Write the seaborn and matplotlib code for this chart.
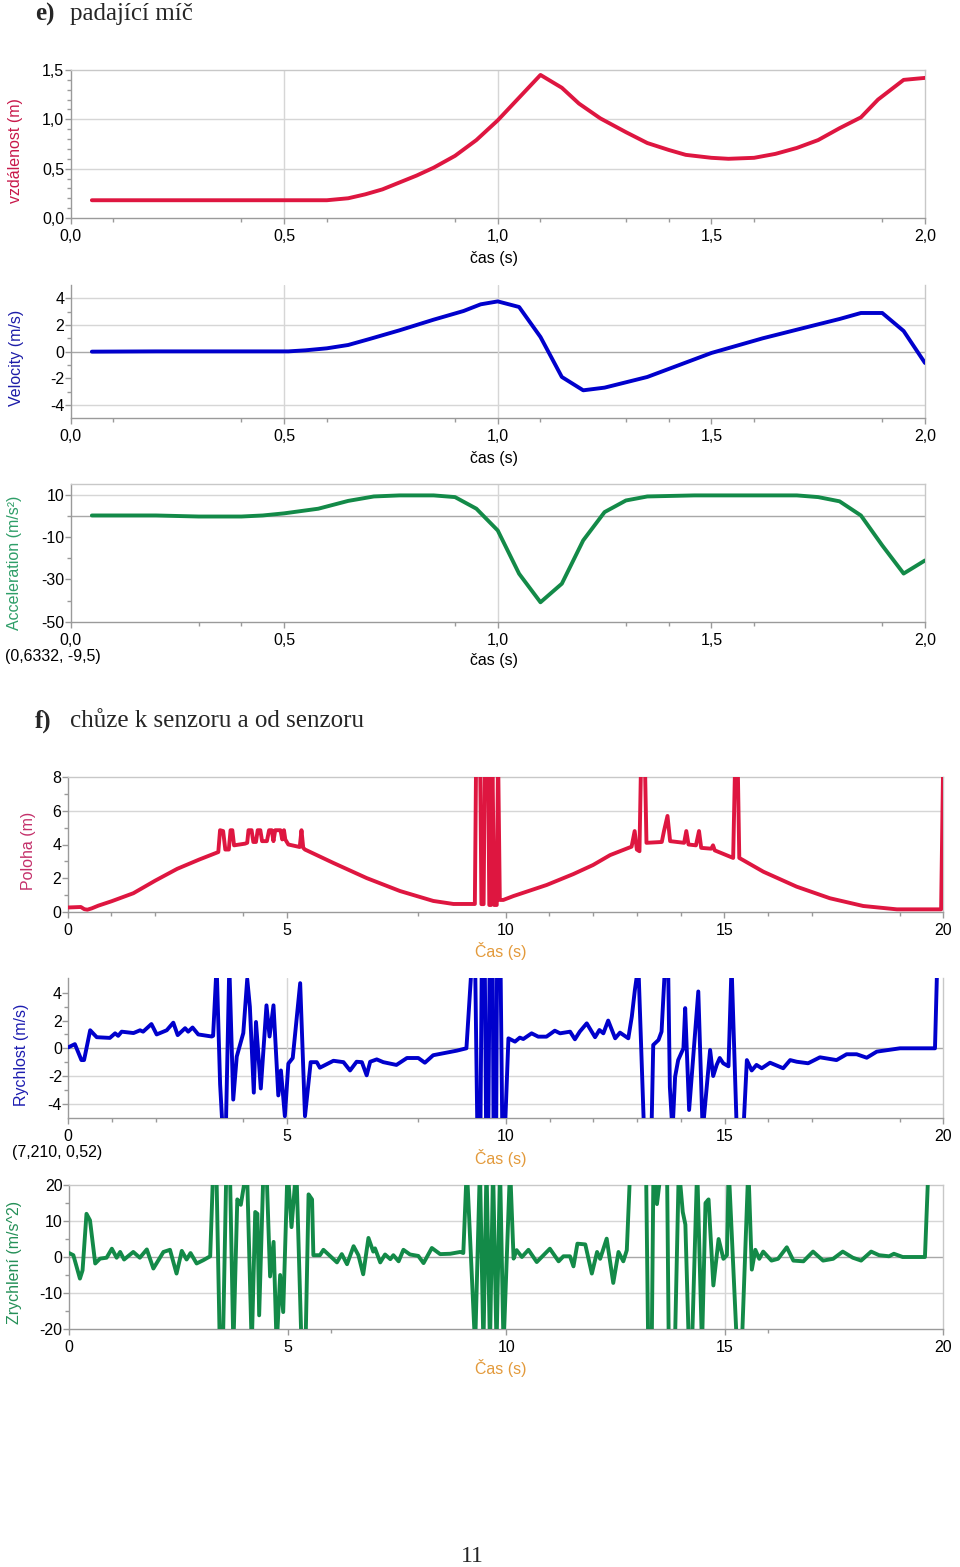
import numpy as np
import pandas as pd
import matplotlib
matplotlib.use("Agg")
import matplotlib.pyplot as plt
import seaborn as sns

# ---------------- data: e) falling ball ----------------
ball_t_dist = [0.05, 0.2, 0.4, 0.6, 0.65, 0.69, 0.73, 0.77, 0.81, 0.85, 0.9, 0.95,
               1.0, 1.05, 1.10, 1.15, 1.19, 1.24, 1.30, 1.35, 1.40, 1.44, 1.50, 1.54,
               1.60, 1.65, 1.70, 1.75, 1.80, 1.85, 1.89, 1.95, 2.0]
ball_dist = [0.18, 0.18, 0.18, 0.18, 0.2, 0.24, 0.29, 0.36, 0.43, 0.51, 0.63, 0.79,
             0.99, 1.22, 1.45, 1.32, 1.16, 1.01, 0.87, 0.76, 0.69, 0.64, 0.61, 0.60,
             0.61, 0.65, 0.71, 0.79, 0.91, 1.02, 1.2, 1.40, 1.42]

ball_t_vel = [0.05, 0.2, 0.4, 0.51, 0.55, 0.60, 0.65, 0.70, 0.77, 0.85, 0.92, 0.96,
              1.0, 1.05, 1.10, 1.15, 1.20, 1.25, 1.35, 1.50, 1.62, 1.74, 1.80, 1.85,
              1.90, 1.95, 2.0]
ball_vel = [0.0, 0.02, 0.02, 0.02, 0.1, 0.25, 0.5, 0.95, 1.6, 2.4, 3.05, 3.55,
            3.77, 3.35, 1.1, -1.9, -2.9, -2.7, -1.9, -0.1, 1.0, 1.97, 2.45, 2.9,
            2.9, 1.55, -0.85]

ball_t_acc = [0.05, 0.2, 0.3, 0.4, 0.45, 0.5, 0.58, 0.65, 0.71, 0.77, 0.85, 0.9, 0.95,
              1.0, 1.05, 1.10, 1.15, 1.20, 1.25, 1.30, 1.35, 1.46, 1.54, 1.70, 1.75,
              1.80, 1.85, 1.90, 1.95, 2.0]
ball_acc = [0.3, 0.3, -0.2, -0.2, 0.3, 1.3, 3.5, 7.2, 9.3, 9.8, 9.8, 9.0, 3.5,
            -6.8, -27.3, -40.8, -32.0, -11.5, 1.9, 7.4, 9.3, 9.8, 9.8, 9.8, 9.0,
            7.0, 0.3, -13.9, -27.2, -21.0]

# ---------------- data: f) walking to/from sensor ----------------
walk_t_pos = [0.0, 0.3, 0.38, 0.45, 0.55, 0.7, 1.0, 1.5, 2.0, 2.5, 3.0, 3.44,
              3.48, 3.55, 3.6, 3.68, 3.72, 3.76, 3.8, 4.05, 4.1, 4.13,
              4.2, 4.24, 4.3, 4.34, 4.4, 4.44, 4.55, 4.6, 4.66, 4.7,
              4.74, 4.86, 4.9, 4.94, 4.97, 5.04, 5.3, 5.34, 5.38, 5.42,
              6.07, 6.83, 7.59, 8.35, 8.81, 9.3,
              9.33, 9.42, 9.45, 9.5, 9.53, 9.6, 9.63, 9.67, 9.7, 9.74, 9.8, 9.83, 9.87, 9.95,
              10.18, 10.94, 11.55, 12.0, 12.39, 12.88, 12.95, 13.0, 13.06, 13.1,
              13.18, 13.22, 13.57, 13.62, 13.7, 13.76, 14.08, 14.13, 14.18, 14.35,
              14.42, 14.47, 14.7, 14.74, 14.78, 15.2, 15.25, 15.3, 15.34,
              15.89, 16.65, 17.41, 18.17, 18.94, 19.95, 20.0]
walk_pos = [0.25, 0.28, 0.15, 0.12, 0.2, 0.36, 0.62, 1.1, 1.85, 2.55, 3.1, 3.55,
            4.85, 4.8, 3.7, 3.7, 4.85, 4.85, 3.95, 4.05, 4.1, 4.85,
            4.85, 4.15, 4.15, 4.85, 4.85, 4.2, 4.2, 4.85, 4.85, 4.2,
            4.85, 4.85, 4.3, 4.85, 4.3, 4.0, 3.85, 4.85, 3.8, 3.7,
            2.9, 2.0, 1.23, 0.64, 0.46, 0.46,
            9.5, 9.5, 0.45, 0.45, 9.5, 9.5, 0.4, 0.4, 9.5, 0.4, 0.4, 9.5, 0.7, 0.7,
            0.93, 1.59, 2.24, 2.78, 3.37, 3.87, 4.8, 3.7, 3.6, 9.5,
            9.5, 4.1, 4.15, 4.8, 5.7, 4.2, 4.1, 4.8, 4.0, 3.95,
            4.8, 3.8, 3.75, 3.95, 3.65, 3.2, 9.5, 9.5, 3.2,
            2.38, 1.49, 0.8, 0.34, 0.14, 0.14, 9.5]

walk_t_vel = [0.0, 0.15, 0.3, 0.36, 0.5, 0.65, 0.95, 1.07, 1.14, 1.22,
              1.49, 1.64, 1.71, 1.9, 2.02, 2.25, 2.4, 2.5, 2.67, 2.74,
              2.84, 2.97, 3.28, 3.31, 3.39, 3.47, 3.53, 3.6, 3.68, 3.77,
              3.85, 4.0, 4.09, 4.15, 4.24, 4.29, 4.4, 4.53, 4.6, 4.69,
              4.8, 4.86, 4.95, 5.03, 5.13, 5.3, 5.41, 5.54, 5.68, 5.75,
              6.06, 6.29, 6.44, 6.59, 6.71, 6.82, 6.9, 7.05, 7.2, 7.5,
              7.74, 8.0, 8.15, 8.34, 8.57, 8.88, 9.1, 9.22,
              9.3, 9.35, 9.42, 9.45, 9.52, 9.55, 9.6, 9.63, 9.7, 9.72, 9.78, 9.8, 9.88, 9.92, 9.98,
              10.06, 10.21, 10.32, 10.4, 10.59, 10.74, 10.93, 11.12, 11.24, 11.47,
              11.58, 11.69, 11.85, 12.04, 12.14, 12.23, 12.34, 12.5, 12.61, 12.8,
              12.88, 12.95, 13.03, 13.16, 13.33, 13.37, 13.49, 13.56, 13.64, 13.71,
              13.75, 13.81, 13.87, 13.94, 14.06, 14.1, 14.19, 14.4, 14.5, 14.67,
              14.74, 14.82, 14.89, 14.97, 15.09, 15.16, 15.28, 15.43, 15.51, 15.62,
              15.73, 15.85, 16.04, 16.34, 16.5, 16.65, 16.91, 17.18, 17.56, 17.79,
              18.02, 18.25, 18.48, 18.86, 19.01, 19.81, 19.86]
walk_vel = [0.07, 0.3, -0.85, -0.85, 1.3, 0.8, 0.75, 1.08, 0.9, 1.2,
            1.1, 1.3, 1.2, 1.75, 1.0, 1.3, 1.85, 0.95, 1.45, 1.2,
            1.5, 1.0, 0.85, 0.9, 6.0, -2.6, -6.0, -6.0, 6.0, -3.7,
            -0.6, 1.1, 5.0, 3.0, -3.2, 1.9, -2.9, 3.1, 0.85, 3.1,
            -3.4, -1.6, -4.9, -1.1, -0.7, 4.7, -4.9, -1.0, -1.0, -1.4,
            -0.9, -1.0, -1.6, -0.97, -1.0, -1.95, -0.97, -0.8, -1.0, -1.2,
            -0.7, -0.7, -1.04, -0.5, -0.36, -0.17, 0.0, 6.0,
            6.0, -6.0, -6.0, 6.0, 6.0, -6.0, -6.0, 6.0, 6.0, -6.0, -6.0, 6.0, 6.0, -6.0, -6.0,
            0.72, 0.48, 0.77, 0.67, 1.08, 0.84, 0.84, 1.27, 1.08, 1.2,
            0.65, 1.2, 1.8, 0.8, 1.32, 1.08, 2.0, 0.72, 1.13, 0.72,
            2.28, 4.2, 6.0, -6.0, -6.0, 0.24, 0.6, 1.2, 6.0, 6.0,
            -2.8, -6.0, -2.05, -0.85, 0.0, 2.9, -4.45, 4.1, -6.0, -0.12,
            -2.0, -1.2, -0.7, -1.08, -1.3, 6.0, -6.0, -6.0, -0.85, -1.6,
            -1.2, -1.44, -1.04, -1.44, -0.85, -0.97, -1.08, -0.65, -0.85, -0.43,
            -0.43, -0.68, -0.24, -0.07, 0.0, 0.0, 6.0]

walk_t_acc = [0.0, 0.1, 0.25, 0.31, 0.4, 0.48, 0.6, 0.71, 0.86, 0.98,
              1.09, 1.17, 1.26, 1.47, 1.62, 1.78, 1.93, 2.16, 2.31, 2.46,
              2.58, 2.69, 2.78, 2.92, 3.07, 3.23, 3.3, 3.37, 3.45, 3.52,
              3.6, 3.68, 3.76, 3.85, 3.93, 4.07, 4.18, 4.26, 4.31, 4.35,
              4.45, 4.53, 4.6, 4.68, 4.75, 4.83, 4.9, 5.0, 5.09, 5.2,
              5.32, 5.41, 5.48, 5.56, 5.59, 5.74, 5.82, 5.97, 6.13, 6.24,
              6.36, 6.51, 6.62, 6.73, 6.85, 6.96, 7.0, 7.12, 7.23, 7.35,
              7.42, 7.54, 7.65, 7.8, 7.99, 8.11, 8.3, 8.49, 8.72, 8.95,
              9.02, 9.1, 9.29, 9.4, 9.48, 9.55, 9.63, 9.7, 9.78, 9.86, 9.94, 10.09,
              10.17, 10.24, 10.36, 10.51, 10.7, 11.0, 11.2, 11.31, 11.46, 11.54,
              11.63, 11.81, 11.96, 12.08, 12.15, 12.3, 12.45, 12.57, 12.68, 12.76,
              12.84, 13.2, 13.25, 13.33, 13.37, 13.45, 13.55, 13.68, 13.72, 13.86,
              13.95, 14.04, 14.1, 14.18, 14.25, 14.37, 14.48, 14.56, 14.63, 14.74, 14.86,
              14.97, 15.05, 15.09, 15.28, 15.39, 15.54, 15.62, 15.7, 15.79, 15.88,
              16.07, 16.22, 16.42, 16.57, 16.8, 17.02, 17.25, 17.48, 17.7, 17.93,
              18.12, 18.35, 18.53, 18.76, 18.87, 19.07, 19.58, 19.66]
walk_acc = [1.1, 0.5, -6.0, -3.7, 12.0, 10.2, -1.8, -0.45, -0.2, 2.3,
            -0.2, 1.4, -0.7, 1.4, -0.2, 2.1, -3.2, 1.4, 2.0, -4.6,
            1.7, -0.7, 1.1, -1.8, -0.9, 0.2, 25, 25, -25, -25,
            25, 25, -25, 16, 14.5, 25, -25, 12.5, 12, -16.2,
            25, 20, -5.4, 4.2, -25, -5, -15.3, 25, 8.3, 25,
            -25, -25, 17.4, 16, 0.5, 0.5, 2.0, 0.3, -1.5, 0.8,
            -2.0, 3.0, 0.5, -4.8, 5.3, 1.5, 2.4, -1.5, 0.7, -0.6,
            0.5, -1.2, 2.0, 0.7, 0.3, -1.7, 2.5, 0.8, 0.9, 1.4,
            1.1, 25, -25, 25, -25, 25, -25, 25, -25, 25, -25, 25,
            -0.45, 1.9, 0.0, 2.0, -1.4, 2.3, -1.2, 0.2, 0.2, -2.6,
            3.7, 3.5, -4.6, 1.4, -0.5, 5.1, -7.2, 1.4, -1.2, 1.9,
            25, 25, -25, -25, 25, 14.7, 25, 25, -25, -25,
            25, 12.5, 9.0, -25, -25, 25, -25, 15, 16, -7.9, 5.0,
            -0.5, 0.5, 25, -25, -25, 25, -3.5, 2.0, -0.5, 1.5,
            -1.0, -0.5, 2.7, -1.0, -1.2, 1.5, -1.0, -0.5, 1.5, -0.2,
            -1.0, 1.5, 0.5, 0.2, 0.9, 0.0, 0.0, 25]

# tick labels
ball_xticks = [0.0, 0.5, 1.0, 1.5, 2.0]
ball_xlabels = ["0,0", "0,5", "1,0", "1,5", "2,0"]
walk_xticks = [0, 5, 10, 15, 20]
walk_xlabels = ["0", "5", "10", "15", "20"]

# ---------------- styling ----------------
sns.set_theme(style="white")
plt.rcParams['font.family'] = ['Liberation Sans', 'DejaVu Sans']

W, H = 960, 1567
fig = plt.figure(figsize=(W / 100, H / 100), dpi=100)

RED = '#DE1640'
BLUE = '#0000CC'
GREEN = '#138A48'
ORANGE = '#E39A3B'
GRID = '#D6D6D6'
ZERO = '#A8A8A8'
SPINE = '#9A9A9A'
FRAME = '#C8C8C8'
TICKFS = 11.5
LABFS = 11.5
LW = 2.8


def rect(x0, y0, x1, y1):
    return [x0 / W, 1 - y1 / H, (x1 - x0) / W, (y1 - y0) / H]


def ftext(x, y, s, **kw):
    fig.text(x / W, 1 - y / H, s, **kw)


def panel(box, t, y, color, xlim, ylim, xticks, xlabels, yticks, ylabels,
          xminor, yminor, hgrid, vgrid, zero, top_frame):
    ax = fig.add_axes(rect(*box))
    df = pd.DataFrame({'t': t, 'y': y})
    sns.lineplot(data=df, x='t', y='y', ax=ax, color=color, linewidth=LW,
                 estimator=None, sort=False, zorder=3)
    ax.set_xlim(*xlim)
    ax.set_ylim(*ylim)
    for g in hgrid:
        ax.axhline(g, color=GRID, lw=1.0, zorder=1)
    if zero:
        ax.axhline(0, color=ZERO, lw=1.0, zorder=1)
    for g in vgrid:
        ax.axvline(g, color=GRID, lw=1.0, zorder=1)
    ax.set_xticks(xticks)
    ax.set_xticklabels(xlabels)
    ax.set_yticks(yticks)
    ax.set_yticklabels(ylabels)
    ax.set_xticks(xminor, minor=True)
    ax.set_yticks(yminor, minor=True)
    ax.tick_params(axis='both', which='major', length=4, width=1, color=SPINE,
                   labelsize=TICKFS, labelcolor='black', direction='out')
    ax.tick_params(axis='both', which='minor', length=3, width=1, color=SPINE,
                   direction='out')
    ax.tick_params(axis='x', which='both', bottom=True, pad=4)
    ax.tick_params(axis='y', which='both', left=True, pad=0.5)
    ax.set_xlabel('')
    ax.set_ylabel('')
    for s in ('left', 'bottom'):
        ax.spines[s].set_color(SPINE)
        ax.spines[s].set_linewidth(1.0)
    ax.spines['right'].set_color(FRAME)
    ax.spines['right'].set_linewidth(1.0)
    ax.spines['top'].set_visible(top_frame)
    ax.spines['top'].set_color(FRAME)
    ax.spines['top'].set_linewidth(1.0)
    ax.set_facecolor('white')
    return ax


# ---------------- titles ----------------
serif = ['Liberation Serif', 'DejaVu Serif']
ftext(35, 14, "e)", fontsize=18, fontweight='bold', family=serif, va='center', ha='left')
ftext(70, 14, "padající míč", fontsize=18, family=serif, va='center', ha='left')
ftext(35, 721, "f)", fontsize=18, fontweight='bold', family=serif, va='center', ha='left')
ftext(70, 721, "chůze k senzoru a od senzoru", fontsize=18, family=serif, va='center', ha='left')
ftext(472, 1556, "11", fontsize=17, family=serif, va='center', ha='center')

# ---------------- e) panels ----------------
bx_minor = [0.1, 0.4, 0.6, 0.9, 1.1, 1.3, 1.4, 1.6, 1.9]
panel((70.5, 70, 925, 218), ball_t_dist, ball_dist, RED, (0, 2.0), (0, 1.5),
      ball_xticks, ball_xlabels, [0.0, 0.5, 1.0, 1.5], ["0,0", "0,5", "1,0", "1,5"],
      bx_minor, [0.1, 0.2, 0.3, 0.4, 0.6, 0.7, 0.8, 0.9, 1.1, 1.2, 1.3, 1.4],
      [0.5, 1.0], [0.5, 1.0], False, True)
ftext(16, 151, "vzdálenost (m)", fontsize=LABFS, color='#C8184A', rotation=90,
      va='center', ha='center')
ftext(494, 258, "čas (s)", fontsize=LABFS, color='black', va='center', ha='center')

panel((70.5, 285, 925, 418.3), ball_t_vel, ball_vel, BLUE, (0, 2.0), (-5, 5),
      ball_xticks, ball_xlabels, [-4, -2, 0, 2, 4], ["-4", "-2", "0", "2", "4"],
      bx_minor, [-3, -1, 1, 3],
      [4, 2, -4], [0.5, 1.0], True, False)
ftext(17, 358, "Velocity (m/s)", fontsize=LABFS, color='#1C1CA8', rotation=90,
      va='center', ha='center')
ftext(494, 458, "čas (s)", fontsize=LABFS, color='black', va='center', ha='center')

panel((70.5, 484, 925, 621.7), ball_t_acc, ball_acc, GREEN, (0, 2.0), (-50, 15.2),
      ball_xticks, ball_xlabels, [-50, -30, -10, 10], ["-50", "-30", "-10", "10"],
      [0.3, 0.4, 0.9, 1.3, 1.4, 1.6, 1.9], [-40, -20, 0],
      [10], [1.0], True, True)
ftext(15, 563, "Acceleration (m/s²)", fontsize=LABFS, color='#2E9E68', rotation=90,
      va='center', ha='center')
ftext(494, 661, "čas (s)", fontsize=LABFS, color='black', va='center', ha='center')
ftext(5, 656, "(0,6332, -9,5)", fontsize=LABFS, color='black', va='center', ha='left')

# ---------------- f) panels ----------------
wx_minor = [1, 2, 4, 8, 11, 12, 13, 14, 16, 17, 19]
panel((67.7, 777.3, 943.3, 911.7), walk_t_pos, walk_pos, RED, (0, 20), (0, 8),
      walk_xticks, walk_xlabels, [0, 2, 4, 6, 8], ["0", "2", "4", "6", "8"],
      wx_minor, [1, 3, 5, 7],
      [6], [], False, True)
ftext(28, 851, "Poloha (m)", fontsize=LABFS, color='#C4306A', rotation=90,
      va='center', ha='center')
ftext(501, 951, "Čas (s)", fontsize=LABFS, color=ORANGE, va='center', ha='center')

panel((68.3, 978.3, 943.3, 1118.3), walk_t_vel, walk_vel, BLUE, (0, 20), (-5.05, 5.05),
      walk_xticks, walk_xlabels, [-4, -2, 0, 2, 4], ["-4", "-2", "0", "2", "4"],
      wx_minor, [-3, -1, 1, 3],
      [-2, -4], [5], True, False)
ftext(22, 1055, "Rychlost (m/s)", fontsize=LABFS, color='#1C1CB0', rotation=90,
      va='center', ha='center')
ftext(501, 1158, "Čas (s)", fontsize=LABFS, color=ORANGE, va='center', ha='center')
ftext(12, 1153, "(7,210, 0,52)", fontsize=LABFS, color='black', va='center', ha='left')

panel((69, 1185, 943.3, 1329), walk_t_acc, walk_acc, GREEN, (0, 20), (-20, 20),
      walk_xticks, walk_xlabels, [-20, -10, 0, 10, 20], ["-20", "-10", "0", "10", "20"],
      [6, 16], [-15, -5, 5, 15],
      [10, -10], [15], True, True)
ftext(15, 1262, "Zrychlení (m/s^2)", fontsize=LABFS, color='#259058', rotation=90,
      va='center', ha='center')
ftext(501, 1368, "Čas (s)", fontsize=LABFS, color=ORANGE, va='center', ha='center')

fig.savefig("out.png", dpi=100, facecolor='white')
